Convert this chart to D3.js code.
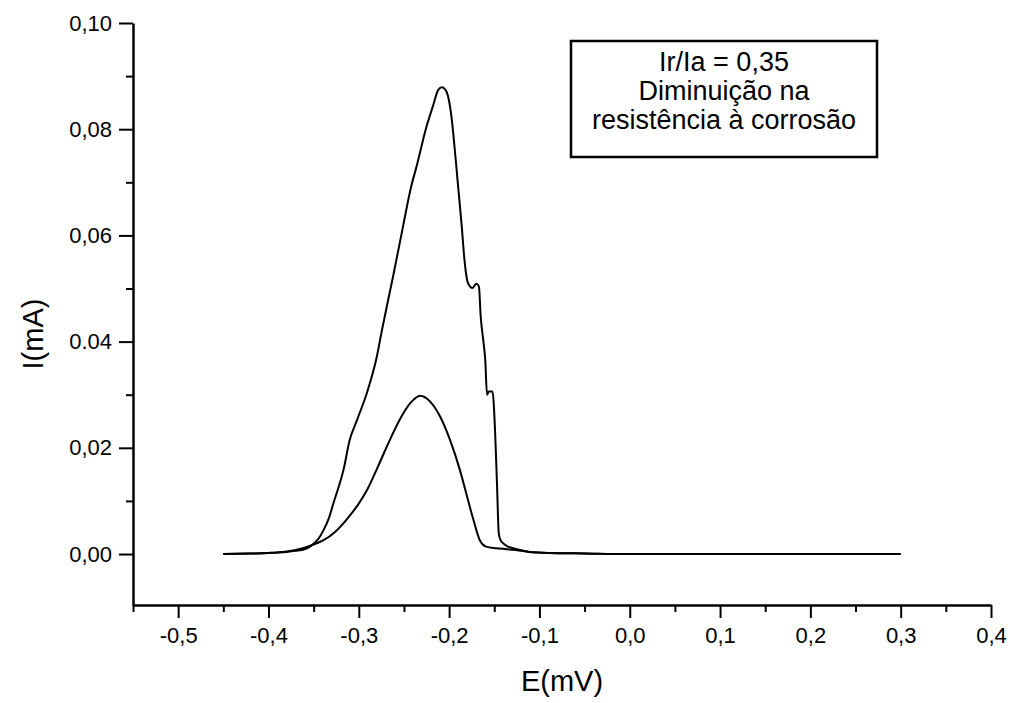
<!DOCTYPE html>
<html>
<head>
<meta charset="utf-8">
<script src="https://d3js.org/d3.v7.min.js"></script>
<style>
  body { margin: 0; background: #fff; }
  text { font-family: "Liberation Sans", Arial, sans-serif; fill: #000; }
</style>
</head>
<body>
<div id="chart"></div>
<script>
// activation scan (upper curve)
var potAtiv = [-0.45, -0.42, -0.40, -0.38, -0.37, -0.36, -0.354, -0.345, -0.339, -0.333, -0.328, -0.322, -0.317, -0.310, -0.302, -0.29, -0.28, -0.275, -0.269, -0.262, -0.251, -0.242, -0.236, -0.225, -0.218, -0.212, -0.208, -0.203, -0.197, -0.194, -0.19, -0.186, -0.183, -0.179, -0.174, -0.170, -0.167, -0.165, -0.162, -0.160, -0.158, -0.156, -0.152, -0.149, -0.147, -0.145, -0.143, -0.140, -0.135, -0.129, -0.12, -0.111, -0.09, -0.05, 0.0, 0.1, 0.2, 0.3];
var corrAtiv = [0, 0.0001, 0.0002, 0.0004, 0.0006, 0.0009, 0.0014, 0.0028, 0.0045, 0.0068, 0.0096, 0.0128, 0.0158, 0.0215, 0.0252, 0.0309, 0.0372, 0.0416, 0.0466, 0.0523, 0.0617, 0.0692, 0.073, 0.0805, 0.0843, 0.0874, 0.0879, 0.0871, 0.0818, 0.0767, 0.0692, 0.0617, 0.0554, 0.051, 0.0501, 0.0509, 0.0504, 0.0447, 0.040, 0.0366, 0.030, 0.0306, 0.0306, 0.0227, 0.0133, 0.0039, 0.0026, 0.002, 0.0014, 0.0011, 0.0007, 0.0004, 0.0002, 0.0001, 0, 0, 0, 0];

// reactivation scan (lower curve)
var potReat = [-0.45, -0.42, -0.40, -0.38, -0.362, -0.35, -0.339, -0.326, -0.314, -0.30, -0.291, -0.28, -0.269, -0.255, -0.243, -0.232, -0.221, -0.210, -0.199, -0.188, -0.181, -0.173, -0.166, -0.159, -0.148, -0.136, -0.12, -0.111, -0.09, -0.05, 0, 0.1, 0.2, 0.3];
var corrReat = [0, 0.0001, 0.0002, 0.0005, 0.0011, 0.0018, 0.0026, 0.0042, 0.0064, 0.0095, 0.012, 0.016, 0.0202, 0.0252, 0.0284, 0.0298, 0.0287, 0.0259, 0.0215, 0.0158, 0.0114, 0.0064, 0.0026, 0.0014, 0.0011, 0.0009, 0.0006, 0.0004, 0.0002, 0.0001, 0, 0, 0, 0];

var xTicks = [-0.5, -0.4, -0.3, -0.2, -0.1, 0.0, 0.1, 0.2, 0.3, 0.4];
var xTickLabels = ["-0,5", "-0,4", "-0,3", "-0,2", "-0,1", "0,0", "0,1", "0,2", "0,3", "0,4"];
var xMinor = [-0.55, -0.45, -0.35, -0.25, -0.15, -0.05, 0.05, 0.15, 0.25, 0.35];
var yTicks = [0, 0.02, 0.04, 0.06, 0.08, 0.10];
var yTickLabels = ["0,00", "0,02", "0.04", "0,06", "0,08", "0,10"];
var yMinor = [0.01, 0.03, 0.05, 0.07, 0.09];
var legendLines = ["Ir/Ia = 0,35", "Diminuição na", "resistência à corrosão"];

var W = 1012, H = 703;
var margin = {top: 23, right: 21, bottom: 98, left: 133};

var svg = d3.select("#chart").append("svg").attr("width", W).attr("height", H);

var x = d3.scaleLinear().domain([-0.55, 0.4]).range([margin.left, W - margin.right]);
var y = d3.scaleLinear().domain([-0.0096, 0.10]).range([H - margin.bottom, margin.top]);

// minor ticks first
svg.append("g").attr("transform", "translate(0," + y(-0.0096) + ")")
  .call(d3.axisBottom(x).tickValues(xMinor).tickSize(7).tickFormat("").tickSizeOuter(0))
  .call(function(g) { g.select(".domain").remove(); g.selectAll("line").attr("stroke-width", 2); });
svg.append("g").attr("transform", "translate(" + x(-0.55) + ",0)")
  .call(d3.axisLeft(y).tickValues(yMinor).tickSize(7).tickFormat("").tickSizeOuter(0))
  .call(function(g) { g.select(".domain").remove(); g.selectAll("line").attr("stroke-width", 2); });

var xAxis = svg.append("g").attr("transform", "translate(0," + y(-0.0096) + ")")
  .call(d3.axisBottom(x).tickValues(xTicks).tickSize(13).tickSizeOuter(0).tickPadding(9)
    .tickFormat(function(d, i) { return xTickLabels[i]; }));
xAxis.select(".domain").attr("stroke-width", 2.5);
xAxis.selectAll("line").attr("stroke-width", 2);
xAxis.selectAll("text").style("font-size", "22px");

var yAxis = svg.append("g").attr("transform", "translate(" + x(-0.55) + ",0)")
  .call(d3.axisLeft(y).tickValues(yTicks).tickSize(14).tickSizeOuter(0).tickPadding(7)
    .tickFormat(function(d, i) { return yTickLabels[i]; }));
yAxis.select(".domain").attr("stroke-width", 2.5);
yAxis.selectAll("line").attr("stroke-width", 2);
yAxis.selectAll("text").style("font-size", "22px");

svg.append("text").attr("x", 562).attr("y", 691).attr("text-anchor", "middle")
  .style("font-size", "29px").text("E(mV)");
svg.append("text").attr("transform", "translate(43,334) rotate(-90)").attr("text-anchor", "middle")
  .style("font-size", "29px").text("I(mA)");

var line = d3.line().x(function(d) { return x(d[0]); }).y(function(d) { return y(d[1]); })
  .curve(d3.curveMonotoneX);

svg.append("path").datum(d3.zip(potReat, corrReat)).attr("d", line)
  .attr("fill", "none").attr("stroke", "#000").attr("stroke-width", 2);
svg.append("path").datum(d3.zip(potAtiv, corrAtiv)).attr("d", line)
  .attr("fill", "none").attr("stroke", "#000").attr("stroke-width", 2);

// legend box
svg.append("rect").attr("x", 571).attr("y", 41).attr("width", 306).attr("height", 116)
  .attr("fill", "#fff").attr("stroke", "#000").attr("stroke-width", 2.5);
svg.selectAll(".leg").data(legendLines).enter().append("text")
  .attr("x", 724).attr("y", function(d, i) { return 71 + i * 29; })
  .attr("text-anchor", "middle").style("font-size", "27px").text(function(d) { return d; });
</script>
</body>
</html>
